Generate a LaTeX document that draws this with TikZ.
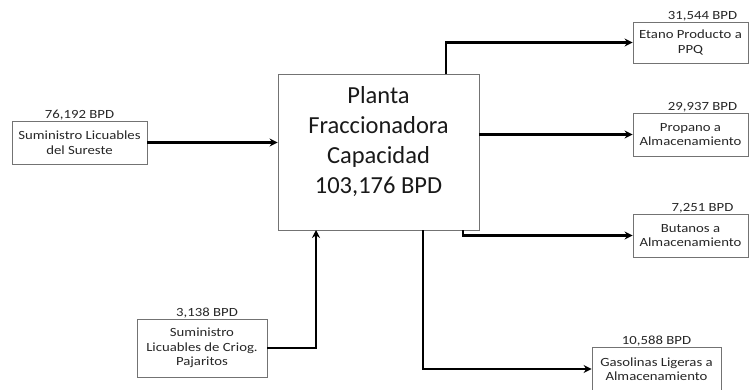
\documentclass[tikz,border=0pt]{standalone}
\usepackage{fontspec}
\setmainfont{Carlito}
\newfontfamily\boxfont[FakeStretch=1.18]{Carlito}
\usetikzlibrary{arrows.meta}

\tikzset{
  caja/.style={draw=black!55, line width=0.8pt, inner sep=1pt, align=center,
    font=\boxfont\fontsize{12.5}{14.5}\selectfont, text=black!85},
  flujo/.style={line width=2.2pt, -{Stealth[length=8pt,width=8pt]}},
  cant/.style={font=\boxfont\fontsize{12.5}{14.5}\selectfont, text=black!85,
    inner sep=0.5pt, label distance=0pt}
}

\begin{document}
\begin{tikzpicture}[x=1pt, y=-1pt]
    \useasboundingbox (0, 0) rectangle (752, 389);
    % planta
    \node [draw=black!55, line width=0.8pt, minimum width=201pt, minimum height=156pt]
      (planta) at (378.5, 152) {};
    \node [align=center, font=\fontsize{24.5}{30}\selectfont, text=black!90]
      (plantaTxt) at ([yshift=10pt]planta.center)
      {Planta\\Fraccionadora\\Capacidad\\103,176 BPD};
    % entradas
    \node [caja, minimum width=135pt, minimum height=43pt,
      label={[cant]above:{76,192 BPD}}] (sur) at (79.5, 142.5)
      {Suministro Licuables\\del Sureste};
    \node [caja, minimum width=130pt, minimum height=58pt,
      label={[cant, xshift=5pt]above:{3,138 BPD}}] (crio) at (202, 348)
      {Suministro\\Licuables de Criog.\\Pajaritos};
    % salidas
    \node [caja, minimum width=115pt, minimum height=41pt,
      label={[cant, xshift=12pt]above:{31,544 BPD}}] (etano) at (690.5, 42.5)
      {Etano Producto a\\PPQ};
    \node [caja, minimum width=115pt, minimum height=43pt,
      label={[cant, xshift=12pt]above:{29,937 BPD}}] (propano) at (690.5, 134.5)
      {Propano a\\Almacenamiento};
    \node [caja, minimum width=115pt, minimum height=43pt,
      label={[cant, xshift=12pt]above:{7,251 BPD}}] (butanos) at (690.5, 235.5)
      {Butanos a\\Almacenamiento};
    \node [caja, minimum width=129pt, minimum height=44pt,
      label={[cant]above:{10,588 BPD}}] (gasolinas) at (656.5, 369)
      {Gasolinas Ligeras a\\Almacenamiento};
    % puntos en el borde de la planta
    \coordinate (crioIn) at (316, 230);
    \coordinate (etanoOut) at (446, 74);
    \coordinate (butanosOut) at (463, 230);
    \coordinate (gasolinasOut) at (423, 230);
    % flujos
    \draw [flujo] (sur.east) -- (sur.east -| planta.west);
    \draw [flujo] (crio.east) -| (crioIn);
    \draw [flujo] (etanoOut) |- (etano.west);
    \draw [flujo] (propano.west -| planta.east) -- (propano.west);
    \draw [flujo] (butanosOut) |- (butanos.west);
    \draw [flujo] (gasolinasOut) |- (gasolinas.west);
\end{tikzpicture}
\end{document}
